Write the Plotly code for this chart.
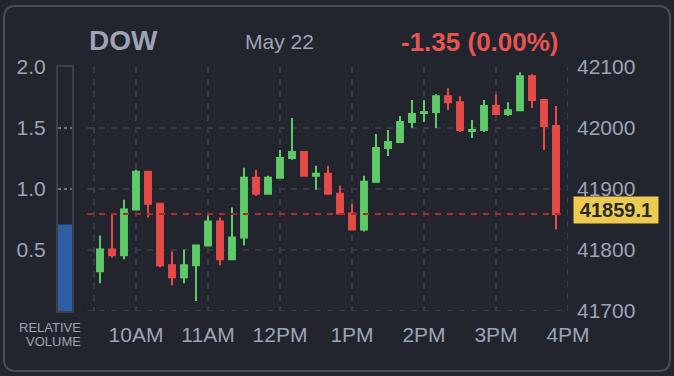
import plotly.graph_objects as go

# ---- data ----
times = ["09:30", "09:40", "09:50", "10:00", "10:10", "10:20", "10:30", "10:40", "10:50",
         "11:00", "11:10", "11:20", "11:30", "11:40", "11:50", "12:00", "12:10", "12:20",
         "12:30", "12:40", "12:50", "13:00", "13:10", "13:20", "13:30", "13:40", "13:50",
         "14:00", "14:10", "14:20", "14:30", "14:40", "14:50", "15:00", "15:10", "15:20",
         "15:30", "15:40", "15:50"]
opens = [41765.1, 41801.0, 41791.2, 41866.2, 41928.2, 41876.0, 41774.9, 41755.3, 41774.9,
         41807.5, 41846.7, 41784.7, 41820.6, 41918.4, 41892.3, 41918.4, 41951.0, 41960.8,
         41921.7, 41925.0, 41892.3, 41859.7, 41833.6, 41911.9, 41967.4, 41977.2, 42009.8,
         42024.4, 42026.1, 42052.2, 42042.4, 41995.0, 41996.7, 42035.9, 42022.8, 42029.3,
         42084.8, 42045.7, 42003.2]
highs = [41823.8, 41860.8, 41882.5, 41931.5, 41928.2, 41876.0, 41797.7, 41801.0, 41807.5,
         41856.5, 41853.2, 41869.5, 41934.7, 41931.5, 41921.7, 41964.1, 42016.3, 41960.8,
         41938.0, 41938.0, 41905.4, 41876.0, 41921.7, 41990.2, 41996.7, 42019.6, 42045.7,
         42045.7, 42055.4, 42065.2, 42052.2, 42013.0, 42045.7, 42055.4, 42042.4, 42091.3,
         42088.1, 42045.7, 42035.9]
lows = [41745.5, 41787.9, 41784.7, 41866.2, 41853.2, 41771.6, 41742.3, 41745.5, 41716.2,
        41807.5, 41774.9, 41784.7, 41807.5, 41889.1, 41892.3, 41918.4, 41947.8, 41921.7,
        41898.9, 41892.3, 41859.7, 41833.6, 41830.3, 41911.9, 41954.3, 41977.2, 42000.0,
        42009.8, 42000.0, 42029.3, 41993.5, 41983.7, 41993.5, 42022.8, 42019.6, 42029.3,
        42032.6, 41964.1, 41833.6]
closes = [41801.0, 41791.2, 41866.2, 41928.2, 41876.0, 41774.9, 41755.3, 41774.9, 41807.5,
          41846.7, 41784.7, 41820.6, 41918.4, 41892.3, 41918.4, 41951.0, 41960.8, 41921.7,
          41925.0, 41892.3, 41859.7, 41833.6, 41911.9, 41967.4, 41977.2, 42009.8, 42022.8,
          42026.1, 42052.2, 42042.4, 41996.7, 41996.7, 42035.9, 42022.8, 42029.3, 42084.8,
          42045.7, 42003.2, 41859.1]

hour_ticks = ["09:25", "10:00", "11:00", "12:00", "13:00", "14:00", "15:00", "16:00"]
hour_labels = ["", "10AM", "11AM", "12PM", "1PM", "2PM", "3PM", "4PM"]
price_ticks = [41700, 41800, 41900, 42000, 42100]
price_labels = ["41700", "41800", "41900", "42000", "42100"]
vol_ticks = [0.5, 1.0, 1.5, 2.0]
vol_labels = ["0.5", "1.0", "1.5", "2.0"]
relative_volume = [0.71]

symbol = "DOW"
date_label = "May 22"
change_label = "-1.35 (0.00%)"
last_price = closes[-1]

DAY = "2025-05-22 "
x_dates = [DAY + t for t in times]
X_START = DAY + "09:19:10"
X_END = DAY + "16:00"

# ---- style ----
BG = "#22252e"
GRID = "#373a47"
TXT = "#9ea3b5"
GREEN = "#5fca68"
RED = "#e64b47"
FONT = "Liberation Sans, Arial, sans-serif"
W, H = 674, 376


def px_x(p):
    return p / W


def px_y(p):
    return 1 - p / H


fig = go.Figure()

fig.add_trace(go.Candlestick(
    x=x_dates, open=opens, high=highs, low=lows, close=closes,
    increasing=dict(line=dict(color=GREEN, width=2), fillcolor=GREEN),
    decreasing=dict(line=dict(color=RED, width=2), fillcolor=RED),
    whiskerwidth=0, hoverinfo="skip", showlegend=False,
    xaxis="x", yaxis="y",
))

fig.add_trace(go.Bar(
    x=[0.5], y=relative_volume, width=[1.0], marker=dict(color="#2c5ea6", line=dict(width=0)),
    xaxis="x2", yaxis="y2", showlegend=False, hoverinfo="skip",
))

tickfont = dict(family=FONT, size=21, color=TXT)

fig.update_layout(
    template="none",
    width=W, height=H,
    margin=dict(l=0, r=0, t=0, b=0, pad=0),
    paper_bgcolor=BG, plot_bgcolor=BG,
    boxgap=0.3,
    showlegend=False,
    hovermode=False,
    xaxis=dict(
        domain=[px_x(87), px_x(568)], type="date", automargin=False,
        range=[X_START, X_END],
        tickvals=[DAY + t for t in hour_ticks], ticktext=hour_labels,
        showgrid=True, gridcolor=GRID, griddash="6px,6px", gridwidth=2,
        zeroline=False, showline=False, ticks="",
        tickfont=tickfont, ticklabelstandoff=9,
        rangeslider=dict(visible=False), fixedrange=True,
    ),
    yaxis=dict(
        domain=[px_y(311), px_y(67)], side="right", automargin=False,
        range=[41700, 42100], tickvals=price_ticks, ticktext=price_labels,
        showgrid=True, gridcolor=GRID, griddash="6px,6px", gridwidth=2,
        zeroline=False, showline=False, ticks="",
        tickfont=tickfont, ticklabelstandoff=8, anchor="x", fixedrange=True,
    ),
    xaxis2=dict(
        domain=[px_x(58), px_x(72)], range=[0, 1], anchor="y2", automargin=False,
        showgrid=False, zeroline=False, showticklabels=False, ticks="",
        showline=True, mirror=True, linecolor="#3c3f4c", linewidth=2, fixedrange=True,
    ),
    yaxis2=dict(
        domain=[px_y(311), px_y(67)], range=[0, 2], anchor="x2", side="left",
        automargin=False,
        tickvals=vol_ticks, ticktext=vol_labels,
        showgrid=True, gridcolor="#6e717c", griddash="3px,3px", gridwidth=1.5,
        layer="above traces",
        zeroline=False, showline=True, mirror=True, linecolor="#3c3f4c", linewidth=2,
        ticks="", tickfont=tickfont, ticklabelstandoff=6, fixedrange=True,
    ),
)

# edge grid lines (bottom and right) that plotly skips at the range ends
fig.add_shape(type="line", xref="x domain", yref="y", x0=0, x1=1,
              y0=price_ticks[0], y1=price_ticks[0],
              line=dict(color=GRID, width=2, dash="6px,6px"), layer="below")
fig.add_shape(type="line", xref="x", yref="y domain", x0=X_END, x1=X_END, y0=0, y1=1,
              line=dict(color=GRID, width=2, dash="6px,6px"), layer="below")

# last price dashed line
fig.add_shape(type="line", xref="x", yref="y",
              x0=X_START, x1=DAY + "15:55", y0=last_price, y1=last_price,
              line=dict(color="#b3262a", width=2, dash="6px,6px"), layer="above")

# outer rounded border
x0, x1 = px_x(4), px_x(670)
y0, y1 = px_y(371), px_y(6)
rx, ry = 12 / W, 12 / H
path = (f"M {x0+rx},{y1} L {x1-rx},{y1} Q {x1},{y1} {x1},{y1-ry} "
        f"L {x1},{y0+ry} Q {x1},{y0} {x1-rx},{y0} L {x0+rx},{y0} "
        f"Q {x0},{y0} {x0},{y0+ry} L {x0},{y1-ry} Q {x0},{y1} {x0+rx},{y1} Z")
fig.add_shape(type="path", xref="paper", yref="paper", path=path,
              line=dict(color="#4a4d59", width=2), layer="below")

# header texts
fig.add_annotation(x=px_x(87), y=px_y(40), xref="paper", yref="paper",
                   text=f"<b>{symbol}</b>", showarrow=False, xanchor="left", yanchor="middle",
                   font=dict(family=FONT, size=28, color=TXT))
fig.add_annotation(x=px_x(243), y=px_y(42), xref="paper", yref="paper",
                   text=date_label, showarrow=False, xanchor="left", yanchor="middle",
                   font=dict(family=FONT, size=21, color=TXT))
fig.add_annotation(x=px_x(399), y=px_y(42), xref="paper", yref="paper",
                   text=f"<b>{change_label}</b>", showarrow=False, xanchor="left", yanchor="middle",
                   font=dict(family=FONT, size=26, color="#e85450"))

# relative volume label (two lines)
for txt, yy in (("RELATIVE", 327), ("VOLUME", 341)):
    fig.add_annotation(x=px_x(83), y=px_y(yy), xref="paper", yref="paper",
                       text=txt, showarrow=False, xanchor="right", yanchor="middle",
                       font=dict(family=FONT, size=13, color=TXT))

# last price badge
fig.add_annotation(x=px_x(573), y=last_price, xref="paper", yref="y", yshift=4,
                   text=f"<b>{last_price:.1f}</b>", showarrow=False, xanchor="left", yanchor="middle",
                   bgcolor="#eecb50", borderpad=2, width=80, height=22,
                   font=dict(family=FONT, size=20, color="#272a34"))

fig.write_html(
    "out.html",
    config={"displayModeBar": False, "staticPlot": False},
    post_script="document.body.style.margin='0';document.body.style.background='#22252e';",
)
